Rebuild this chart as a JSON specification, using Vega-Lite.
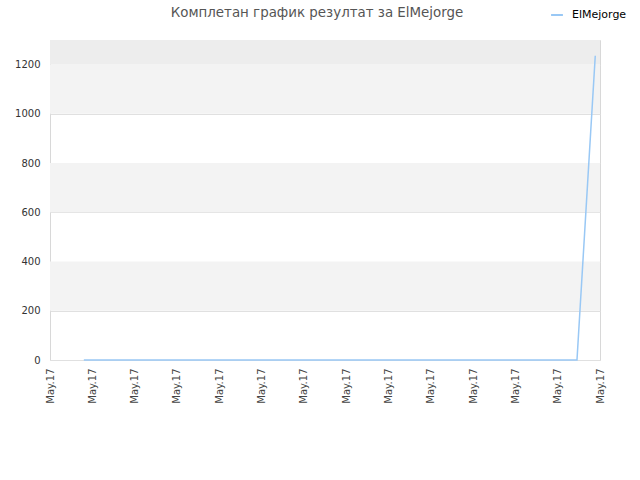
{
  "$schema": "https://vega.github.io/schema/vega-lite/v6.json",
  "width": 550,
  "height": 320,
  "autosize": "none",
  "padding": {"left": 50, "top": 40, "right": 40, "bottom": 120},
  "background": "white",
  "title": {
    "text": "Комплетан график резултат за ElMejorge",
    "font": "DejaVu Sans",
    "fontSize": 13.4,
    "fontWeight": "normal",
    "color": "#555555",
    "offset": -11,
    "dx": -8
  },
  "datasets": {
    "bands": [
      {"lo": 200, "hi": 400, "kind": "light"},
      {"lo": 600, "hi": 800, "kind": "light"},
      {"lo": 1000, "hi": 1200, "kind": "light"},
      {"lo": 1200, "hi": 1300, "kind": "dark"}
    ],
    "series": [
      {"t": 0.8, "score": 0, "player": "ElMejorge"},
      {"t": 12.456, "score": 0, "player": "ElMejorge"},
      {"t": 12.492, "score": 103, "player": "ElMejorge"},
      {"t": 12.528, "score": 206, "player": "ElMejorge"},
      {"t": 12.564, "score": 309, "player": "ElMejorge"},
      {"t": 12.6, "score": 412, "player": "ElMejorge"},
      {"t": 12.636, "score": 515, "player": "ElMejorge"},
      {"t": 12.672, "score": 618, "player": "ElMejorge"},
      {"t": 12.708, "score": 721, "player": "ElMejorge"},
      {"t": 12.744, "score": 824, "player": "ElMejorge"},
      {"t": 12.78, "score": 927, "player": "ElMejorge"},
      {"t": 12.816, "score": 1030, "player": "ElMejorge"},
      {"t": 12.852, "score": 1133, "player": "ElMejorge"},
      {"t": 12.888, "score": 1236, "player": "ElMejorge"}
    ]
  },
  "layer": [
    {
      "data": {"name": "bands"},
      "mark": {"type": "rect"},
      "encoding": {
        "y": {"field": "lo", "type": "quantitative", "scale": {"domain": [0, 1300]}},
        "y2": {"field": "hi"},
        "fill": {
          "field": "kind",
          "type": "nominal",
          "scale": {"domain": ["light", "dark"], "range": ["#f3f3f3", "#ededed"]},
          "legend": null
        }
      }
    },
    {
      "data": {"name": "series"},
      "mark": {"type": "line", "strokeWidth": 1.5, "interpolate": "linear"},
      "encoding": {
        "x": {
          "field": "t",
          "type": "quantitative",
          "scale": {"domain": [0, 13], "nice": false, "zero": false},
          "axis": {
            "title": null,
            "values": [0, 1, 2, 3, 4, 5, 6, 7, 8, 9, 10, 11, 12, 13],
            "labelExpr": "'May.17'",
            "labelAngle": 270,
            "labelAlign": "right",
            "labelBaseline": "middle",
            "labelPadding": 8,
            "labelFont": "DejaVu Sans",
            "labelFontSize": 10,
            "labelColor": "#444444",
            "ticks": false,
            "domain": false,
            "grid": false
          }
        },
        "y": {
          "field": "score",
          "type": "quantitative",
          "scale": {"domain": [0, 1300], "nice": false},
          "axis": {
            "title": null,
            "values": [0, 200, 400, 600, 800, 1000, 1200],
            "format": "d",
            "labelFont": "DejaVu Sans",
            "labelFontSize": 10,
            "labelColor": "#333333",
            "labelPadding": 10,
            "ticks": false,
            "domain": false,
            "grid": true,
            "gridColor": "#e0e0e0"
          }
        },
        "color": {
          "field": "player",
          "type": "nominal",
          "scale": {"range": ["#99c8f5"]},
          "legend": {
            "title": null,
            "orient": "none",
            "legendX": 500,
            "legendY": -32,
            "symbolType": "stroke",
            "symbolSize": 140,
            "symbolStrokeWidth": 2,
            "labelOffset": 8,
            "labelFont": "DejaVu Sans",
            "labelFontSize": 11,
            "labelColor": "#000000"
          }
        }
      }
    }
  ],
  "config": {
    "view": {"stroke": "#d8d8d8", "strokeWidth": 1}
  }
}
